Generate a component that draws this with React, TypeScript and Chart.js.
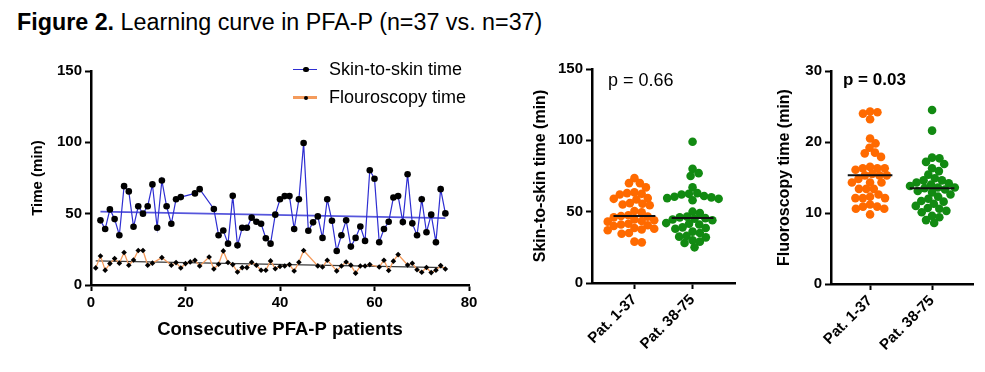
import React, { useEffect, useRef } from "react";
import { Chart, registerables } from "chart.js";
Chart.register(...registerables);

const FONT = 'Arial, "Liberation Sans", Helvetica, sans-serif';

// ---- Learning curve (left panel) ----
const skinPatients = [2, 3, 4, 5, 6, 7, 8, 9, 10, 11, 12, 13, 14, 15, 16, 17, 18, 19, 22, 23, 26, 27, 28, 29, 30, 31, 32, 33, 34, 35, 36, 37, 38, 39, 40, 41, 42, 43, 44, 45, 46, 47, 48, 49, 50, 51, 52, 53, 54, 55, 56, 57, 58, 59, 60, 61, 62, 63, 64, 65, 66, 67, 68, 69, 70, 71, 72, 73, 74, 75];
const skinTimes = [45.3, 39.2, 53, 46.2, 34.9, 69.3, 65.6, 40.8, 55.2, 50, 55.2, 70.5, 40.1, 73.3, 55.2, 42.9, 60.1, 61.6, 64.2, 67.2, 53.3, 34.9, 38.2, 29, 62.5, 27.8, 40.1, 40.1, 47.2, 44.3, 42.9, 32.8, 29, 49.3, 60.1, 62.3, 62.3, 39.2, 60.1, 99.5, 38, 43.9, 48.1, 33, 60.1, 45, 23.8, 34.9, 45.3, 26.9, 33, 41, 30.9, 80.4, 74.5, 30, 39.2, 44.3, 61.3, 62.3, 44.1, 77.6, 43.2, 34.9, 60.1, 37, 49.3, 30, 67.2, 50.2];
const fluoroPatients = [1, 2, 3, 4, 5, 6, 7, 8, 9, 10, 11, 12, 13, 15, 17, 18, 19, 20, 21, 22, 23, 25, 26, 27, 28, 29, 30, 31, 32, 33, 34, 35, 36, 37, 38, 39, 40, 41, 42, 43, 44, 45, 48, 49, 50, 52, 53, 54, 55, 56, 57, 58, 59, 61, 62, 63, 64, 65, 67, 68, 69, 70, 71, 72, 73, 74, 75];
const fluoroTimes = [12, 20.3, 10.4, 15, 18.5, 15.3, 22.8, 13.8, 17.5, 24.2, 24.2, 13.8, 15.3, 19.2, 13.8, 15.7, 11.9, 15, 16.2, 17.4, 13.3, 19.6, 11.2, 14.5, 23.9, 15.8, 14.3, 9.1, 12.2, 12.2, 15.9, 13.8, 10.3, 10.3, 16.9, 11.4, 13, 13.3, 14.3, 9.8, 15.9, 24.2, 13.4, 12.6, 17.4, 9.9, 13.3, 16.1, 13.9, 8.3, 13.3, 13.3, 14.3, 12.6, 17.4, 10.2, 16.7, 21.3, 14, 15.2, 10.7, 8.9, 12.3, 8.7, 10.4, 13.6, 11.2];
const timeTicks = [0, 50, 100, 150];
const patientTicks = [0, 20, 40, 60, 80];

// ---- Group comparisons ----
const groupLabels = ["Pat. 1-37", "Pat. 38-75"];
const skinGroup1 = [73.5, 70, 70, 67, 63.5, 63, 62.5, 62, 59.5, 59, 58.5, 56, 55.5, 55, 54.5, 50.5, 49.5, 47.5, 47, 46.5, 46, 44.5, 44, 43.5, 43, 41.5, 41, 40.5, 40, 38.5, 38, 37.5, 37, 35, 34.5, 29, 28.5];
const skinGroup2 = [99, 80, 77, 75, 67, 63, 62.5, 62, 61, 60.5, 60, 59.5, 59, 58, 50, 49, 46.5, 46, 45.5, 45, 44.5, 44, 42, 41.5, 41, 39, 38.5, 38, 36, 35, 33, 32.5, 32, 30, 29, 28, 25];
const fluoroGroup1 = [24.3, 24.0, 24.2, 23.2, 20.5, 19.8, 19.2, 18.4, 18.5, 17.9, 16.3, 16.3, 16.5, 16.3, 16.1, 15.3, 15.3, 15.5, 14.8, 15.3, 14.3, 14.3, 14.3, 13.4, 13.4, 13.4, 12.1, 12.1, 12.3, 12.1, 12.6, 10.9, 11.2, 10.9, 10.6, 10.6, 9.8];
const fluoroGroup2 = [24.5, 21.6, 17.8, 17.7, 17.2, 16.9, 16.3, 15.9, 15.4, 14.9, 14.6, 14.6, 14.3, 14.2, 14.0, 13.8, 13.6, 13.6, 13.5, 13.3, 13.1, 12.9, 12.6, 12.3, 12.0, 11.7, 11.6, 11.3, 11.0, 10.7, 10.6, 10.3, 10.1, 9.6, 9.4, 9.0, 8.6];
const skinTicks = [0, 50, 100, 150];
const fluoroTicks = [0, 10, 20, 30];
const pSkin = "p = 0.66";
const pFluoro = "p = 0.03";

const BLUE = "#2e2ed2";
const ORANGE_LINE = "#f49b5c";
const ORANGE = "#ff6a00";
const GREEN = "#128a12";

function regression(xs: number[], ys: number[]) {
  const n = xs.length;
  const mx = xs.reduce((a, b) => a + b, 0) / n;
  const my = ys.reduce((a, b) => a + b, 0) / n;
  let sxy = 0, sxx = 0;
  for (let i = 0; i < n; i++) { sxy += (xs[i] - mx) * (ys[i] - my); sxx += (xs[i] - mx) ** 2; }
  const b = sxy / sxx;
  const a = my - b * mx;
  const x0 = Math.min(...xs), x1 = Math.max(...xs);
  return [{ x: x0, y: a + b * x0 }, { x: x1, y: a + b * x1 }];
}

function median(v: number[]) {
  const s = [...v].sort((a, b) => a - b);
  const m = Math.floor(s.length / 2);
  return s.length % 2 ? s[m] : (s[m - 1] + s[m]) / 2;
}

// beeswarm layout: offsets computed in pixels, converted back to data units
function swarm(values: number[], center: number, pxX: number, pxY: number, r: number) {
  const order = values.map((_, i) => i).sort((a, b) => values[b] - values[a]);
  const placed: { x: number; y: number }[] = [];
  const out: { x: number; y: number }[] = new Array(values.length);
  for (const i of order) {
    const y = values[i] * pxY;
    const cands = [0];
    for (const p of placed) {
      const dy = y - p.y;
      if (Math.abs(dy) < 2 * r) {
        const dx = Math.sqrt(4 * r * r - dy * dy);
        cands.push(p.x + dx, p.x - dx);
      }
    }
    cands.sort((a, b) => Math.abs(a) - Math.abs(b));
    let best = 0;
    for (const c of cands) {
      if (placed.every((p) => (p.x - c) ** 2 + (p.y - y) ** 2 >= 4 * r * r - 0.01)) { best = c; break; }
    }
    placed.push({ x: best, y });
    out[i] = { x: center + best / pxX, y: values[i] };
  }
  return out;
}

function yAxis(ticks: number[], title: string, titleSize: number, width: number) {
  return {
    type: "linear" as const,
    min: ticks[0],
    max: ticks[ticks.length - 1],
    afterBuildTicks: (s: any) => { s.ticks = ticks.map((v) => ({ value: v })); },
    afterFit: (s: any) => { s.width = width; },
    ticks: { color: "#000", padding: 3, font: { family: FONT, size: 15, weight: "bold" as const } },
    grid: { display: true, drawOnChartArea: false, drawTicks: true, tickLength: 6, tickWidth: 2, tickColor: "#000" },
    border: { display: true, color: "#000", width: 2.5 },
    title: { display: true, text: title, color: "#000", padding: { top: 4, bottom: 4 }, font: { family: FONT, size: titleSize, weight: "bold" as const } },
  };
}

function ChartCanvas({ make, left, top, width, height }: { make: () => any; left: number; top: number; width: number; height: number }) {
  const ref = useRef<HTMLCanvasElement>(null);
  useEffect(() => {
    const chart = new Chart(ref.current!, make());
    return () => chart.destroy();
  }, []);
  return <canvas ref={ref} width={width} height={height} style={{ position: "absolute", left, top, width, height }} />;
}

function lineConfig() {
  return {
    type: "scatter",
    data: {
      datasets: [
        {
          data: skinPatients.map((x, i) => ({ x, y: skinTimes[i] })),
          showLine: true, borderColor: BLUE, borderWidth: 1.2,
          pointRadius: 3.3, pointBackgroundColor: "#000", pointBorderWidth: 0,
        },
        {
          data: fluoroPatients.map((x, i) => ({ x, y: fluoroTimes[i] })),
          showLine: true, borderColor: ORANGE_LINE, borderWidth: 1.3,
          pointStyle: "rectRot", pointRadius: 2.8, pointBackgroundColor: "#000", pointBorderWidth: 0,
        },
        { data: regression(skinPatients, skinTimes), showLine: true, borderColor: "#5656dc", borderWidth: 1.8, pointRadius: 0 },
        { data: regression(fluoroPatients, fluoroTimes), showLine: true, borderColor: "#3a3a3a", borderWidth: 1.4, pointRadius: 0 },
      ],
    },
    options: {
      animation: false, responsive: false,
      layout: { padding: { left: 25, right: 21, top: 21, bottom: 15 } },
      plugins: { legend: { display: false }, tooltip: { enabled: false } },
      scales: {
        x: {
          type: "linear", min: 0, max: 80,
          afterBuildTicks: (s: any) => { s.ticks = patientTicks.map((v) => ({ value: v })); },
          afterFit: (s: any) => { s.height = 60; },
          ticks: { color: "#000", padding: 3, maxRotation: 0, font: { family: FONT, size: 15, weight: "bold" } },
          grid: { display: true, drawOnChartArea: false, drawTicks: true, tickLength: 6, tickWidth: 2, tickColor: "#000" },
          border: { display: true, color: "#000", width: 2.5 },
          title: { display: true, text: "Consecutive PFA-P patients", color: "#000", padding: { top: 4, bottom: 4 }, font: { family: FONT, size: 18.5, weight: "bold" } },
        },
        y: yAxis(timeTicks, "Time (min)", 15, 66),
      },
    },
  };
}

function groupConfig(g1: number[], g2: number[], ticks: number[], title: string, xmin: number, xmax: number, pxX: number, pxY: number, padLeft: number, axisWidth: number, padRight: number, padTop: number, xHeight: number) {
  const r = 4.3;
  const rc = 3.7;
  const med = (v: number[], c: number) => [{ x: c - 0.36, y: median(v) }, { x: c + 0.36, y: median(v) }];
  return {
    type: "scatter",
    data: {
      datasets: [
        { data: med(g1, 1), showLine: true, borderColor: "#111", borderWidth: 2, pointRadius: 0 },
        { data: med(g2, 2), showLine: true, borderColor: "#111", borderWidth: 2, pointRadius: 0 },
        { data: swarm(g1, 1, pxX, pxY, rc), pointRadius: r, pointBackgroundColor: ORANGE, pointBorderWidth: 0 },
        { data: swarm(g2, 2, pxX, pxY, rc), pointRadius: r, pointBackgroundColor: GREEN, pointBorderWidth: 0 },
      ],
    },
    options: {
      animation: false, responsive: false,
      layout: { padding: { left: padLeft, right: padRight, top: padTop, bottom: 0 } },
      plugins: { legend: { display: false }, tooltip: { enabled: false } },
      scales: {
        x: {
          type: "linear", min: xmin, max: xmax,
          afterBuildTicks: (s: any) => { s.ticks = [{ value: 1 }, { value: 2 }]; },
          afterFit: (s: any) => { s.height = xHeight; },
          ticks: {
            color: "#000", padding: 2, autoSkip: false, maxRotation: 45, minRotation: 45,
            font: { family: FONT, size: 15, weight: "bold" },
            callback: (v: any) => groupLabels[Math.round(v) - 1],
          },
          grid: { display: true, drawOnChartArea: false, drawTicks: true, tickLength: 6, tickWidth: 2, tickColor: "#000" },
          border: { display: true, color: "#000", width: 2.5 },
        },
        y: yAxis(ticks, title, 16, axisWidth),
      },
    },
  };
}

export default function App() {
  const text = (s: React.CSSProperties) => ({ position: "absolute" as const, fontFamily: FONT, color: "#000", lineHeight: 1, whiteSpace: "nowrap" as const, transform: "translateY(-50%)", ...s });
  return (
    <div style={{ position: "absolute", left: 0, top: 0, width: 985, height: 372, background: "#fff", overflow: "hidden" }}>
      <div style={text({ left: 17, top: 23, fontSize: 23.3 })}>
        <b>Figure 2.</b> Learning curve in PFA-P (n=37 vs. n=37)
      </div>
      <ChartCanvas make={lineConfig} left={0} top={50} width={490} height={310} />
      <ChartCanvas
        make={() => groupConfig(skinGroup1, skinGroup2, skinTicks, "Skin-to-skin time (min)", 0.27, 2.73, 143 / 2.46, 214 / 150, 22, 65, 15, 19, 87)}
        left={505} top={50} width={245} height={320}
      />
      <ChartCanvas
        make={() => groupConfig(fluoroGroup1, fluoroGroup2, fluoroTicks, "Fluoroscopy time (min)", 0.37, 2.66, 142 / 2.29, 213 / 30, 11, 60, 12, 21, 86)}
        left={760} top={50} width={225} height={320}
      />
      {/* legend */}
      <div style={{ position: "absolute", left: 293, top: 68.5, width: 24, height: 1.4, background: BLUE }} />
      <div style={{ position: "absolute", left: 303, top: 66.5, width: 5.5, height: 5.5, borderRadius: "50%", background: "#000" }} />
      <div style={text({ left: 329, top: 69, fontSize: 18 })}>Skin-to-skin time</div>
      <div style={{ position: "absolute", left: 293, top: 96, width: 24, height: 3, background: ORANGE_LINE }} />
      <div style={{ position: "absolute", left: 304, top: 95.5, width: 4, height: 4, borderRadius: "50%", background: "#000" }} />
      <div style={text({ left: 329, top: 97, fontSize: 18 })}>Flouroscopy time</div>
      {/* p-values */}
      <div style={text({ left: 608, top: 80, fontSize: 18 })}>{pSkin}</div>
      <div style={text({ left: 843, top: 79, fontSize: 17, fontWeight: "bold" })}>{pFluoro}</div>
    </div>
  );
}
